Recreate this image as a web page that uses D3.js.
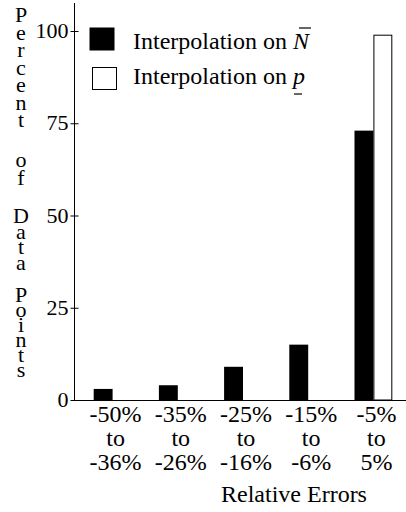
<!DOCTYPE html>
<html>
<head>
<meta charset="utf-8">
<script src="https://cdn.jsdelivr.net/npm/d3@7"></script>
</head>
<body style="margin:0; background:#fff">
<div id="chart"></div>
<script>
/**
 * DATA
 * */
const categories = ["-50% to -36%", "-35% to -26%", "-25% to -16%", "-15% to -6%", "-5% to 5%"];
const catLines = [["-50%", "to", "-36%"], ["-35%", "to", "-26%"], ["-25%", "to", "-16%"], ["-15%", "to", "-6%"], ["-5%", "to", "5%"]];
const seriesNames = ["Interpolation on N", "Interpolation on p"];
const valuesN = [3, 4, 9, 15, 73];
const valuesP = [0, 0, 0, 0, 99];
const yTicks = [0, 25, 50, 75, 100];
const yLabelWords = ["Percent", "of", "Data", "Points"];
const xTitle = "Relative Errors";

/**
 * CONSTANTS AND GLOBALS
 * */
const width = 406, height = 512;
const axisX = 74;
const axisTop = 3;
const serif = "Liberation Serif";

const svg = d3.select("#chart")
  .append("svg")
  .attr("width", width)
  .attr("height", height);

const yScale = d3.scaleLinear()
  .domain([0, 100])
  .range([400, 31]);

const x0 = d3.scaleBand()
  .domain(categories)
  .range([80, 406])
  .paddingInner(0.42)
  .paddingOuter(0.21);

const x1 = d3.scaleBand()
  .domain(seriesNames)
  .range([0, x0.bandwidth()]);

const rows = categories.map((c, i) => ({ cat: c, values: [valuesN[i], valuesP[i]] }));

// bars
const groups = svg.selectAll("g.grp")
  .data(rows)
  .join("g")
  .attr("class", "grp")
  .attr("transform", d => `translate(${x0(d.cat)},0)`);

groups.selectAll("rect")
  .data(d => d.values.map((v, j) => ({ key: seriesNames[j], v, j })).filter(e => e.v > 0))
  .join("rect")
  .attr("x", d => x1(d.key) + (d.j === 1 ? 0.5 : 0))
  .attr("y", d => yScale(d.v) + (d.j === 1 ? 0.5 : 0))
  .attr("width", d => x1.bandwidth() - (d.j === 1 ? 1 : 0))
  .attr("height", d => yScale(0) - yScale(d.v) - (d.j === 1 ? 0.5 : 0))
  .attr("fill", d => d.j === 0 ? "#000" : "#fff")
  .attr("stroke", d => d.j === 0 ? "none" : "#000")
  .attr("stroke-width", 1);

// y axis
const yAxis = d3.axisLeft(yScale).tickValues(yTicks).tickSize(4).tickPadding(2);
const gy = svg.append("g")
  .attr("transform", `translate(${axisX + 0.5},0)`)
  .call(yAxis);
gy.select(".domain").remove();
gy.selectAll(".tick line").attr("x1", 4).attr("x2", -4).attr("stroke", "#000");
gy.selectAll(".tick text")
  .attr("font-family", serif)
  .attr("font-size", 22)
  .attr("dy", "0.3em")
  .attr("fill", "#000");
gy.append("line")
  .attr("x1", 0).attr("x2", 0)
  .attr("y1", axisTop).attr("y2", yScale(0))
  .attr("stroke", "#000");

// x axis baseline
svg.append("line")
  .attr("x1", axisX).attr("x2", width)
  .attr("y1", yScale(0) + 0.5).attr("y2", yScale(0) + 0.5)
  .attr("stroke", "#000");

// category labels
const xl = svg.selectAll("text.xlab")
  .data(catLines)
  .join("text")
  .attr("class", "xlab")
  .attr("font-family", serif)
  .attr("text-anchor", "middle")
  .attr("font-size", 24);
xl.selectAll("tspan")
  .data((d, i) => d.map(t => ({ t, c: x0(categories[i]) + x0.bandwidth() / 2 + 3 })))
  .join("tspan")
  .attr("x", d => d.c)
  .attr("y", (d, k) => 422 + k * 24)
  .text(d => d.t);

// x title
svg.append("text")
  .attr("x", 294)
  .attr("y", 502)
  .attr("font-family", serif)
  .attr("text-anchor", "middle")
  .attr("font-size", 24)
  .text(xTitle);

// y title: each word written top to bottom with upright letters
const ySize = 22;
const glyphAdv = ySize * 1.107;          // upright advance (ascent + descent)
const firstBase = [22, 167, 223, 302];   // baseline of first letter of each word
const pitch = [17.6, 18, 15.7, 15];
svg.selectAll("text.ylab")
  .data(yLabelWords)
  .join("text")
  .attr("class", "ylab")
  .attr("font-family", serif)
  .attr("font-size", ySize)
  .attr("x", 21)
  .attr("y", (d, i) => firstBase[i] - ySize * 0.891)
  .attr("textLength", (d, i) => (d.length - 1) * pitch[i] + glyphAdv)
  .attr("lengthAdjust", "spacing")
  .style("writing-mode", "vertical-rl")
  .style("text-orientation", "upright")
  .text(d => d);

// legend
const legend = svg.append("g");
const legItems = [
  { name: seriesNames[0], fill: "#000", sx: 90, sy: 28, tx: 133, ty: 49, mark: "over" },
  { name: seriesNames[1], fill: "#fff", sx: 92.5, sy: 67.5, tx: 133, ty: 84, mark: "under" }
];
legItems.forEach(it => {
  legend.append("rect")
    .attr("x", it.sx).attr("y", it.sy)
    .attr("width", 24).attr("height", 22)
    .attr("fill", it.fill)
    .attr("stroke", "#000").attr("stroke-width", 1);
  const parts = it.name.split(" ");
  const last = parts.pop();
  const t = legend.append("text")
    .attr("x", it.tx).attr("y", it.ty)
    .attr("font-family", serif)
    .attr("font-size", 24);
  t.append("tspan").text(parts.join(" ") + " ");
  t.append("tspan").attr("font-style", "italic").text(last);
  // bar over N, small bar under p ("Interpolation on " is about 160px wide)
  if (it.mark === "over") {
    legend.append("line")
      .attr("x1", it.tx + 166).attr("x2", it.tx + 178)
      .attr("y1", it.ty - 21).attr("y2", it.ty - 21)
      .attr("stroke", "#000").attr("stroke-width", 1.2);
  } else {
    legend.append("line")
      .attr("x1", it.tx + 161).attr("x2", it.tx + 169)
      .attr("y1", it.ty + 10).attr("y2", it.ty + 10)
      .attr("stroke", "#000").attr("stroke-width", 1.2);
  }
});
</script>
</body>
</html>
